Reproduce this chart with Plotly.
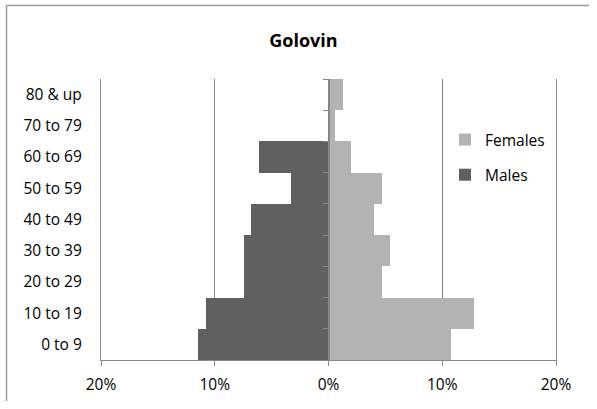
import plotly.graph_objects as go

# Age groups, bottom to top
age_groups = ["0 to 9", "10 to 19", "20 to 29", "30 to 39", "40 to 49",
              "50 to 59", "60 to 69", "70 to 79", "80 & up"]

# Share of population (%) by age group
males_pct = [11.5, 10.8, 7.4, 7.4, 6.8, 3.3, 6.1, 0.0, 0.0]
females_pct = [10.8, 12.8, 4.7, 5.4, 4.0, 4.7, 2.0, 0.6, 1.3]

tick_vals = [-20, -10, 0, 10, 20]
tick_text = ["20%", "10%", "0%", "10%", "20%"]

FONT = "'Open Sans', Lato, sans-serif"
GRID = "#868686"

W, H = 597, 409
ML, MR, MT, MB = 101, 41, 79, 49
plot_w = W - ML - MR
plot_h = H - MT - MB

fig = go.Figure()

fig.add_trace(go.Bar(
    y=age_groups, x=[-v for v in males_pct], orientation="h",
    name="Males", marker=dict(color="#606060", line=dict(width=0)),
    legendgroup="m", legendrank=2, yaxis="y",
    hovertemplate="%{y}: %{customdata}%<extra>Males</extra>",
    customdata=males_pct,
))
fig.add_trace(go.Bar(
    y=age_groups, x=females_pct, orientation="h",
    name="Females", marker=dict(color="#b3b3b3", line=dict(width=0)),
    legendgroup="f", legendrank=1, yaxis="y2",
    hovertemplate="%{y}: %{x}%<extra>Females</extra>",
))

# Outer chart frame: top and left edges
bx0 = (6.5 - ML) / plot_w
bx1 = (W - 8 - ML) / plot_w
by_top = (H - 5.5 - MB) / plot_h
by_bot = -(MB - 8) / plot_h
frame = dict(color="#9a9a9a", width=1.5)
fig.add_shape(type="line", xref="paper", yref="paper",
              x0=bx0, x1=bx0, y0=by_bot, y1=by_top, line=frame, layer="below")
fig.add_shape(type="line", xref="paper", yref="paper",
              x0=bx0, x1=bx1, y0=by_top, y1=by_top, line=frame, layer="below")

fig.update_layout(
    width=W, height=H,
    margin=dict(l=ML, r=MR, t=MT, b=MB),
    paper_bgcolor="white", plot_bgcolor="white",
    barmode="overlay", bargap=0,
    font=dict(family=FONT, size=15.5, color="#000000"),
    title=dict(text="<b>Golovin</b>", x=303.5 / W, xanchor="center",
               y=1 - 41 / H, yanchor="middle",
               font=dict(family=FONT, size=18, color="#000000")),
    showlegend=True,
    legend=dict(
        x=(445 - ML) / plot_w, xanchor="left",
        y=1 - (123 - MT) / plot_h, yanchor="top",
        traceorder="grouped", tracegroupgap=12,
        font=dict(family=FONT, size=15.5, color="#000000"),
        bgcolor="rgba(0,0,0,0)", itemwidth=30,
    ),
    xaxis=dict(
        range=[-20, 20], tickvals=tick_vals, ticktext=tick_text,
        showgrid=True, gridcolor=GRID, gridwidth=1.2,
        zeroline=False,
        showline=True, linecolor=GRID, linewidth=1.2,
        ticks="outside", ticklen=5, tickcolor=GRID, tickwidth=1.2,
        ticklabelstandoff=5,
        tickfont=dict(family=FONT, size=15.5, color="#000000"),
        fixedrange=True,
    ),
    # Category axis: labels on the left, plus vertical lines at ±20%
    yaxis=dict(
        type="category", categoryorder="array", categoryarray=age_groups,
        range=[-0.5, 8.5],
        showgrid=False, zeroline=False,
        showline=True, mirror=True, linecolor=GRID, linewidth=1.2,
        ticks="", ticklabelstandoff=15,
        tickfont=dict(family=FONT, size=15.5, color="#000000"),
        fixedrange=True,
    ),
    # Central vertical axis at 0% with ticks between age groups
    yaxis2=dict(
        type="category", categoryorder="array", categoryarray=age_groups,
        range=[-0.5, 8.5], overlaying="y", anchor="free", position=0.5,
        showgrid=False, zeroline=False,
        showline=True, linecolor=GRID, linewidth=1.5,
        ticks="outside", tickson="boundaries", ticklen=5,
        tickcolor=GRID, tickwidth=1.2,
        showticklabels=False, fixedrange=True,
    ),
)

fig.write_html("out.html")
